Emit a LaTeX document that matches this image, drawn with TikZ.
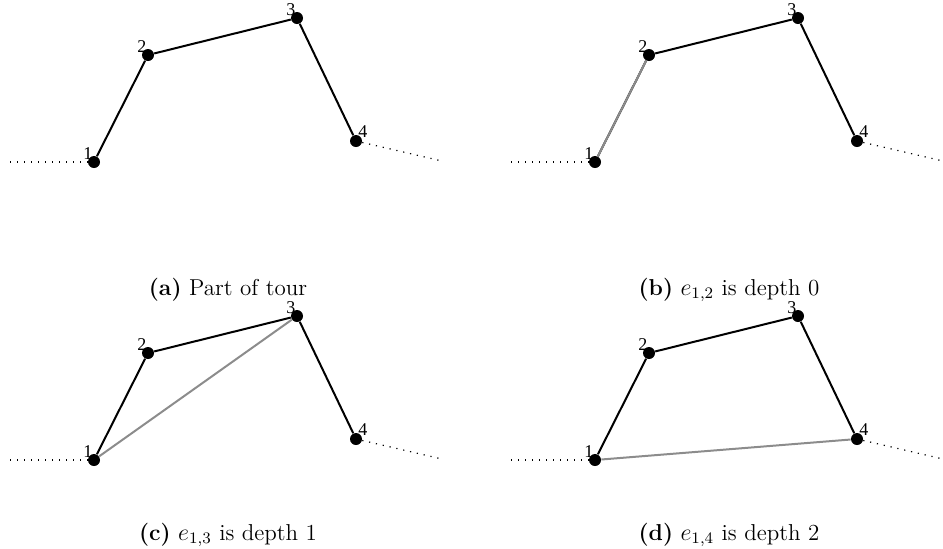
\documentclass[tikz,border=0pt]{standalone}
\usepackage{fontspec}
\newfontfamily\lblfont{Liberation Serif}
\usetikzlibrary{positioning}

\begin{document}
\begin{tikzpicture}[x=0.5pt, y=-0.5pt,
    city/.style={circle, fill=black, inner sep=0pt, minimum size=6pt},
    lbl/.style={inner sep=0pt, font=\lblfont\fontsize{9}{9}\selectfont},
    tourline/.style={line width=1pt},
    rest/.style={line width=0.6pt, dash pattern=on 0.6pt off 2.9pt},
    hl/.style={line width=1pt, gray!90},
    caption/.style={font=\fontsize{11.5}{13}\selectfont}
  ]
  \useasboundingbox (0,0) rectangle (943,548);
  \foreach \p/\dx/\dy/\cy/\t in {a/0/0/290/{\textbf{(a)} Part of tour},
                                 b/501/0/290/{\textbf{(b)} $e_{1,2}$ is depth 0},
                                 c/0/298/237/{\textbf{(c)} $e_{1,3}$ is depth 1},
                                 d/501/298/237/{\textbf{(d)} $e_{1,4}$ is depth 2}} {
    \begin{scope}[shift={(\dx,\dy)}]
      \node[city, label={[lbl,label distance=-2pt]120:1}] (\p1) at (94,162) {};
      \node[city, label={[lbl,label distance=-2pt]120:2}] (\p2) at (148,55) {};
      \node[city, label={[lbl,label distance=-2pt]120:3}] (\p3) at (297,18) {};
      \node[city, label={[lbl,label distance=-1.5pt]55:4}] (\p4) at (356,141) {};
      \coordinate (\p0) at (10,162);
      \coordinate (\p5) at (442,161);
      \draw[rest] (\p0) -- (\p1);
      \draw[rest] (\p4) -- (\p5);
      \draw[tourline] (\p1) -- (\p2) -- (\p3) -- (\p4);
      \node[caption] (cap\p) at (228,\cy) {\t};
    \end{scope}
  }
  % edges being tested
  \draw[hl] (b1) -- (b2);
  \draw[hl] (c1) -- (c3);
  \draw[hl] (d1) -- (d4);
\end{tikzpicture}
\end{document}
